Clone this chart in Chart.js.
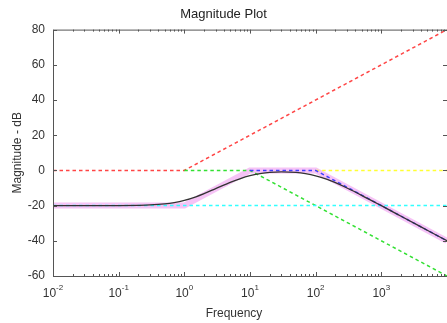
<!DOCTYPE html>
<html>
<head>
<meta charset="utf-8">
<script src="https://cdn.jsdelivr.net/npm/chart.js@4/dist/chart.umd.min.js"></script>
<style>
    html, body { margin: 0; padding: 0; background: #fff; }
    #wrap { width: 447px; height: 323px; }
</style>
</head>
<body>
<div id="wrap"><canvas id="chart" width="447" height="323"></canvas></div>
<script>
// Asymptotes and actual response (frequency, dB)
const redX = [0.01, 1, 10000];
const redY = [0, 0, 80];
const greenX = [1, 10, 10000];
const greenY = [0, 0, -60];
const yellowX = [100, 10000];
const yellowY = [0, 0];
const cyanX = [0.01, 10000];
const cyanY = [-20, -20];
const blueX = [10, 100, 10000];
const blueY = [0, 0, -40];
const asymX = [0.01, 1, 10, 100, 10000];
const asymY = [-20, -20, 0, 0, -40];
const freq = [0.01, 0.1, 0.2, 0.3, 0.5, 0.7, 1, 1.5, 2, 3, 5, 7, 10, 15, 20, 30, 50, 70, 100, 150, 200, 300, 500, 1000, 2000, 5000, 10000];
const actual = [-20, -19.96, -19.83, -19.63, -19.04, -18.29, -17.03, -14.98, -13.18, -10.38, -6.83, -4.76, -3.01, -1.67, -1.13, -0.82, -1.14, -1.82, -3.05, -5.14, -7.0, -10.01, -14.15, -20.04, -26.03, -33.98, -40];

const yTicks = [-60, -40, -20, 0, 20, 40, 60, 80];
const xDecades = [-2, -1, 0, 1, 2, 3];

const pts = (xs, ys) => xs.map((x, i) => ({ x: x, y: ys[i] }));

function dashed(data, color, order) {
    return {
        data: data,
        borderColor: color,
        borderWidth: 1.5,
        borderDash: [3.5, 3],
        pointRadius: 0,
        fill: false,
        order: order
    };
}

// Axes box, inward ticks and log tick labels
const axesPlugin = {
    id: 'axesBox',
    afterDraw(chart) {
        const ctx = chart.ctx;
        const a = chart.chartArea;
        const xs = chart.scales.x;
        const ys = chart.scales.y;
        ctx.save();
        ctx.strokeStyle = '#555';
        ctx.lineWidth = 1;
        ctx.beginPath();
        ctx.rect(a.left + 0.5, a.top + 0.5, a.right - a.left, a.bottom - a.top);
        ctx.stroke();

        ctx.beginPath();
        for (let d = -2; d < 4; d++) {
            for (let m = 1; m < 10; m++) {
                const px = Math.round(xs.getPixelForValue(m * Math.pow(10, d))) + 0.5;
                const len = m === 1 ? 4 : 2;
                ctx.moveTo(px, a.bottom);
                ctx.lineTo(px, a.bottom - len);
                ctx.moveTo(px, a.top);
                ctx.lineTo(px, a.top + len);
            }
        }
        yTicks.forEach(v => {
            const py = Math.round(ys.getPixelForValue(v)) + 0.5;
            ctx.moveTo(a.left, py);
            ctx.lineTo(a.left + 4, py);
            ctx.moveTo(a.right, py);
            ctx.lineTo(a.right - 4, py);
        });
        ctx.stroke();

        // x tick labels 10^k
        ctx.fillStyle = '#333';
        ctx.textBaseline = 'alphabetic';
        ctx.textAlign = 'left';
        xDecades.forEach(k => {
            const px = xs.getPixelForValue(Math.pow(10, k));
            ctx.font = '12px "Liberation Sans", Arial, sans-serif';
            const wBase = ctx.measureText('10').width;
            ctx.font = '8px "Liberation Sans", Arial, sans-serif';
            const exp = k < 0 ? '-' + (-k) : String(k);
            const wExp = ctx.measureText(exp).width;
            const x0 = px - (wBase + wExp) / 2;
            ctx.font = '12px "Liberation Sans", Arial, sans-serif';
            ctx.fillText('10', x0, 297);
            ctx.font = '8px "Liberation Sans", Arial, sans-serif';
            ctx.fillText(exp, x0 + wBase, 290);
        });

        ctx.font = '12px "Liberation Sans", Arial, sans-serif';
        ctx.textAlign = 'center';
        ctx.fillText('Frequency', 234, 317);
        ctx.restore();
    }
};

new Chart(document.getElementById('chart'), {
    type: 'line',
    data: {
        datasets: [
            {
                data: pts(freq, actual),
                borderColor: '#333',
                borderWidth: 1.3,
                pointRadius: 0,
                cubicInterpolationMode: 'monotone',
                fill: false,
                order: 0
            },
            dashed(pts(blueX, blueY), '#4040ff', 1),
            dashed(pts(cyanX, cyanY), '#33ffff', 2),
            dashed(pts(yellowX, yellowY), '#ffff33', 3),
            dashed(pts(greenX, greenY), '#33e033', 4),
            dashed(pts(redX, redY), '#ff4545', 5),
            {
                data: pts(asymX, asymY),
                borderColor: 'rgba(242, 170, 242, 0.7)',
                borderWidth: 6,
                pointRadius: 0,
                fill: false,
                order: 6
            }
        ]
    },
    options: {
        responsive: false,
        animation: false,
        layout: { padding: { left: 0, top: 1, right: 0, bottom: 47 } },
        plugins: {
            legend: { display: false },
            tooltip: { enabled: false },
            title: {
                display: true,
                text: 'Magnitude Plot',
                color: '#222',
                font: { family: '"Liberation Sans", Arial, sans-serif', size: 13, weight: 'normal' },
                padding: { top: 6, bottom: 7 }
            }
        },
        scales: {
            x: {
                type: 'logarithmic',
                min: 0.01,
                max: 10000,
                display: false
            },
            y: {
                min: -60,
                max: 80,
                afterFit(s) { s.width = 53; },
                afterBuildTicks(s) { s.ticks = yTicks.map(v => ({ value: v })); },
                grid: { display: false, drawTicks: false },
                border: { display: false },
                ticks: {
                    padding: 8,
                    color: '#333',
                    font: { family: '"Liberation Sans", Arial, sans-serif', size: 12 }
                },
                title: {
                    display: true,
                    text: 'Magnitude - dB',
                    color: '#333',
                    font: { family: '"Liberation Sans", Arial, sans-serif', size: 12 },
                    padding: { top: 10, bottom: 0 }
                }
            }
        }
    },
    plugins: [axesPlugin]
});
</script>
</body>
</html>
